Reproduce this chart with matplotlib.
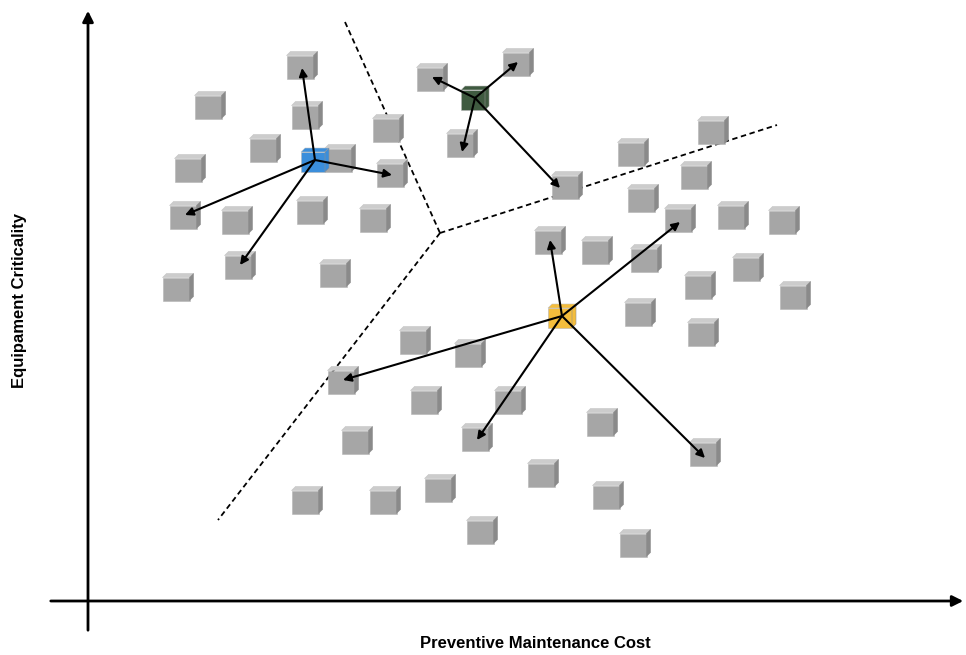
import numpy as np
import matplotlib.pyplot as plt
from matplotlib.patches import Polygon


# ==== Data (picture pixel coordinates) ====

cube_x = [302, 210, 307, 265, 190, 388, 340, 392, 185, 237, 312, 375, 240, 335, 178,
          432, 518, 462, 567,
          713, 633, 696, 643, 680, 733, 784, 550, 597, 646, 748, 700, 795, 640, 703,
          415, 470, 343, 426, 510, 602, 357, 477, 705, 543, 440, 608, 307, 385, 482, 635]
cube_y = [65, 105, 115, 148, 168, 128, 158, 173, 215, 220, 210, 218, 265, 273, 287,
          77, 62, 143, 185,
          130, 152, 175, 198, 218, 215, 220, 240, 250, 258, 267, 285, 295, 312, 332,
          340, 353, 380, 400, 400, 422, 440, 437, 452, 473, 488, 495, 500, 500, 530, 543]

centroid_x = [315, 475, 562]
centroid_y = [160, 98, 316]
centroid_colors = ['#3b8edb', '#3f5a40', '#f4bd3c']

# links: (centroid index, target x, target y)
link_c = [0, 0, 0, 0, 1, 1, 1, 1, 2, 2, 2, 2, 2]
link_x = [302, 185, 240, 392, 432, 518, 462, 560, 550, 680, 343, 477, 705]
link_y = [68, 215, 265, 175, 77, 62, 152, 188, 240, 222, 380, 440, 458]

border_x = [[345, 440], [440, 777], [440, 218]]
border_y = [[22, 233], [233, 125], [233, 520]]


def draw_cube(ax, x, y, front, top, side, w=27, h=23, d=4):
    x0, y0 = x - w / 2 - d / 2, y - h / 2 + d / 2
    ax.add_patch(Polygon([(x0, y0), (x0 + w, y0), (x0 + w, y0 + h), (x0, y0 + h)],
                         closed=True, fc=front, ec='#b5b5b5', lw=0.4, zorder=2))
    ax.add_patch(Polygon([(x0, y0), (x0 + d, y0 - d), (x0 + w + d, y0 - d), (x0 + w, y0)],
                         closed=True, fc=top, ec='#c5c5c5', lw=0.4, zorder=2))
    ax.add_patch(Polygon([(x0 + w, y0), (x0 + w + d, y0 - d), (x0 + w + d, y0 + h - d),
                          (x0 + w, y0 + h)],
                         closed=True, fc=side, ec='#8f8f8f', lw=0.4, zorder=2))


fig = plt.figure(figsize=(9.66, 6.55), dpi=100)
ax = fig.add_axes([0, 0, 1, 1])
ax.set_xlim(0, 966)
ax.set_ylim(655, 0)
ax.axis('off')

# ==== Axes arrows ====
ax.annotate('', xy=(88, 8), xytext=(88, 633),
            arrowprops=dict(arrowstyle='-|>', color='black', lw=2, mutation_scale=16))
ax.annotate('', xy=(966, 601), xytext=(48, 601),
            arrowprops=dict(arrowstyle='-|>', color='black', lw=2, mutation_scale=16))
ax.text(20, 300, 'Equipament Criticality', rotation=90, ha='center', va='center',
        fontsize=12, fontweight='bold', family='Liberation Sans')
ax.text(535, 643, 'Preventive Maintenance Cost', ha='center', va='center',
        fontsize=12, fontweight='bold', family='Liberation Sans')

# ==== Borders ====
for bx, by in zip(border_x, border_y):
    ax.plot(bx, by, color='black', lw=1.3, ls=(0, (3, 2)), zorder=1)

# ==== Cubes ====
for x, y in zip(cube_x, cube_y):
    draw_cube(ax, x, y, '#a6a6a6', '#cccccc', '#8a8a8a')

for x, y, c in zip(centroid_x, centroid_y, centroid_colors):
    draw_cube(ax, x, y, c, c, c, w=24, h=20, d=4)

# ==== Links ====
for ci, tx, ty in zip(link_c, link_x, link_y):
    ax.annotate('', xy=(tx, ty), xytext=(centroid_x[ci], centroid_y[ci]),
                arrowprops=dict(arrowstyle='-|>', color='black', lw=1.5,
                                mutation_scale=12, shrinkA=0, shrinkB=0),
                zorder=3)

fig.savefig('out.png', dpi=100)
